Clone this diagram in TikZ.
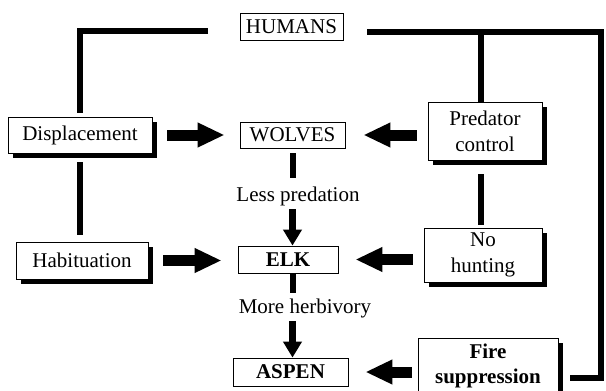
\documentclass[tikz,border=0pt]{standalone}
\usepackage{fontspec}
\setmainfont{Liberation Serif}
\usepackage{tikz}
\usetikzlibrary{positioning, arrows.meta, shadows}

\begin{document}
\begin{tikzpicture}[
    x=1pt, y=-1pt,
    txt/.style={font=\fontsize{21}{26}\selectfont, align=center},
    strong/.style={font=\fontsize{21}{25}\selectfont\bfseries},
    plainbox/.style={txt, draw, line width=0.8pt, fill=white, inner sep=0pt},
    shadowbox/.style={plainbox,
        drop shadow={shadow xshift=5pt, shadow yshift=-5pt, fill=black, opacity=1}},
    flowlabel/.style={txt, inner sep=0pt, minimum height=26pt},
    link/.style={line width=6pt},
    bigarrow/.style={-{Triangle[length=27pt, width=23pt]}, line width=11pt},
    downarrow/.style={-{Triangle[length=16pt, width=18pt]}, line width=7pt}
]
    \useasboundingbox (0,0) rectangle (606,391);
    \clip (0,0) rectangle (606,391);

    % === Top ===
    \node[plainbox, minimum width=103pt, minimum height=27pt] (humans) at (291.5, 26.5) {HUMANS};
    \coordinate (hl) at (208, 31);
    \coordinate (hr) at (367, 32);
    \coordinate (tr) at (601, 32);
    \coordinate (rb) at (481, 32);

    % === Left column ===
    \node[shadowbox, minimum width=144pt, minimum height=36pt] (disp) at (80, 135) {Displacement};
    \node[shadowbox, minimum width=132pt, minimum height=37pt] (hab) at (82, 260.5) {Habituation};

    % === Middle column ===
    \node[plainbox, minimum width=105pt, minimum height=26pt] (wolves) at (292.5, 135) {WOLVES};
    \node[flowlabel] (lesspred) at (298, 196) {Less predation};
    \node[plainbox, strong, minimum width=100pt, minimum height=27pt] (elk) at (288, 259.5) {ELK};
    \node[flowlabel] (morehb) at (305, 308) {More herbivory};
    \node[plainbox, strong, minimum width=115pt, minimum height=28pt] (aspen) at (290.5, 372) {ASPEN};

    % === Right column ===
    \node[shadowbox, minimum width=114pt, minimum height=58pt] (pred) at (485, 131) {Predator\\control};
    \node[shadowbox, minimum width=118pt, minimum height=54pt] (nohunt) at (483, 255) {No\\hunting};
    \node[shadowbox, strong, align=center, minimum width=140pt, minimum height=56pt] (fire) at (488, 366) {Fire\\suppression};

    % Lines from humans
    \draw[link, shorten >=4pt] (hl) -| (disp.north);
    \draw[link, shorten <=9pt, shorten >=7pt] (disp.south) -- (disp.south |- hab.north);
    \draw[link] (hr) -- (tr) |- ([yshift=-12pt, xshift=12pt]fire.east);
    \draw[link] (rb) -- (rb |- pred.north);
    \draw[link, shorten <=14pt, shorten >=3pt] (rb |- pred.south) -- (rb |- nohunt.north);

    % Effects
    \draw[bigarrow, shorten <=15pt, shorten >=15pt] (disp.east |- wolves) -- (wolves.west);
    \draw[bigarrow, shorten <=11pt, shorten >=18pt] (pred.west |- wolves) -- (wolves.east);
    \draw[bigarrow, shorten <=15pt, shorten >=16pt] (hab.east) -- (hab.east -| elk.west);
    \draw[bigarrow, shorten <=11pt, shorten >=17pt] (nohunt.west |- elk) -- (elk.east);
    \draw[bigarrow, shorten <=6pt, shorten >=17pt] (fire.west |- aspen) -- (aspen.east);

    % Trophic cascade
    \draw[link, shorten <=5pt, shorten >=5pt] (wolves.south) -- (wolves.south |- lesspred.north);
    \draw[downarrow] (wolves.south |- lesspred.south) -- (wolves.south |- elk.north);
    \draw[link, shorten >=2pt] (wolves.south |- elk.south) -- (wolves.south |- morehb.north);
    \draw[downarrow] (wolves.south |- morehb.south) -- (wolves.south |- aspen.north);

\end{tikzpicture}
\end{document}
